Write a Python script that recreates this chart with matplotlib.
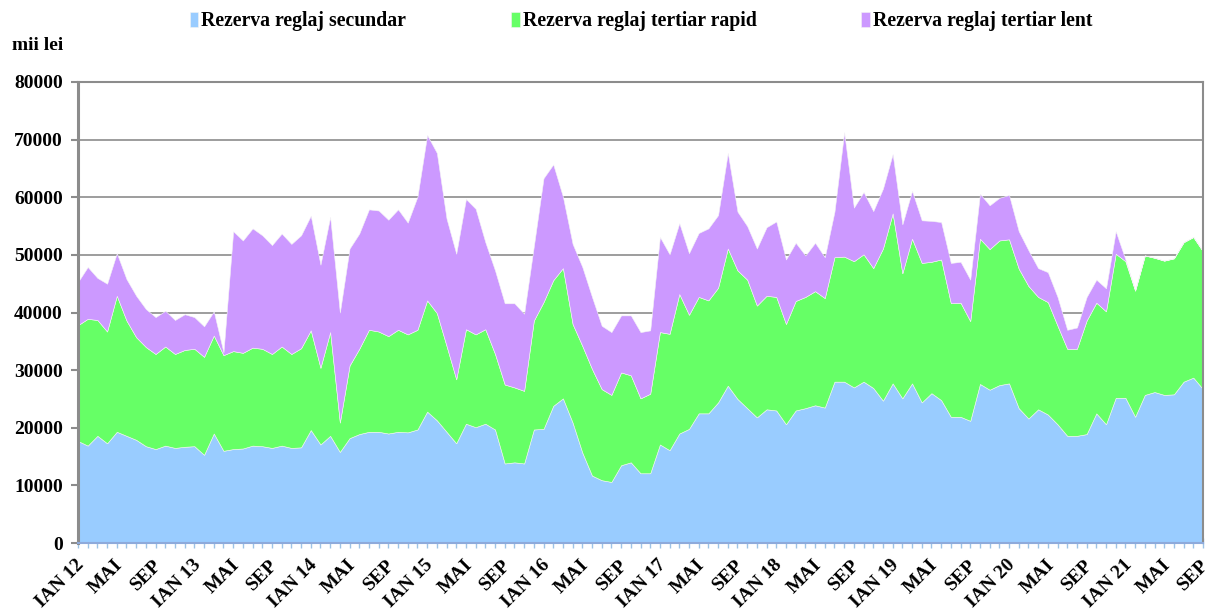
import numpy as np
import matplotlib
matplotlib.use("Agg")
import matplotlib.pyplot as plt
import matplotlib.transforms as mtransforms

# valori lunare (mii lei), ian 2012 - sep 2021
secundar = [17700, 16900, 18600, 17300, 19300, 18600, 17900, 16800, 16300, 16900, 16500, 16700,
            16800, 15300, 19000, 16000, 16300, 16400, 16900, 16800, 16500, 16900, 16500, 16600,
            19600, 17100, 18600, 15800, 18200, 18900, 19300, 19300, 19000, 19300, 19200, 19700,
            22800, 21300, 19300, 17300, 20700, 20100, 20700, 19700, 13800, 14000, 13800, 19700,
            19800, 23800, 25100, 20900, 15700, 11700, 10900, 10600, 13500, 14000, 12100, 12100,
            17100, 16100, 19000, 19800, 22500, 22500, 24400, 27300, 25000, 23400, 21800, 23200,
            23000, 20600, 23000, 23400, 23900, 23500, 28000, 28000, 27000, 28000, 26900, 24700,
            27700, 25100, 27700, 24400, 26000, 24800, 21900, 21900, 21200, 27600, 26600, 27400,
            27700, 23400, 21600, 23200, 22300, 20600, 18600, 18600, 18900, 22500, 20600, 25200,
            25200, 21900, 25700, 26200, 25700, 25800, 28000, 28700, 26700]
rapid = [20100, 22000, 20100, 19400, 23600, 20000, 17800, 17200, 16500, 17200, 16300, 16800,
         16900, 17000, 17000, 16600, 17000, 16600, 17000, 16900, 16300, 17200, 16300, 17200,
         17300, 13300, 18000, 5100, 12600, 14800, 17700, 17400, 16900, 17700, 17000, 17300,
         19300, 18600, 14900, 11100, 16400, 16100, 16400, 13100, 13700, 13000, 12600, 18900,
         22000, 21800, 22600, 17100, 18500, 18500, 15800, 15100, 16100, 15100, 13000, 13800,
         19500, 20200, 24200, 19800, 20200, 19600, 19900, 23800, 22300, 22300, 19400, 19700,
         19700, 17400, 19000, 19300, 19800, 19000, 21600, 21700, 21900, 22100, 20800, 26400,
         29500, 21700, 25100, 24200, 22800, 24400, 19700, 19800, 17300, 25200, 24400, 25100,
         25000, 24200, 23000, 19500, 19500, 17100, 15100, 15100, 19700, 19200, 19600, 25000,
         23700, 21900, 24200, 23300, 23300, 23600, 24200, 24400, 23900]
lent = [7500, 9000, 7300, 8300, 7400, 7200, 7200, 6600, 6400, 6200, 5900, 6200,
        5500, 5300, 4200, 500, 20800, 19500, 20700, 19700, 18900, 19600, 19100, 19600,
        19900, 17900, 20000, 19100, 20300, 20000, 20900, 21000, 20200, 20900, 19400, 23100,
        28700, 27800, 22100, 21800, 22600, 21800, 15100, 14500, 14100, 14600, 13400, 12900,
        21500, 20100, 12400, 13900, 13700, 12500, 11000, 10900, 9900, 10400, 11500, 11000,
        16500, 13800, 12300, 10700, 11100, 12500, 12600, 16600, 10200, 9300, 9900, 11900,
        13100, 11200, 10100, 7200, 8400, 7100, 7900, 21600, 9300, 10800, 9900, 10400,
        10300, 8500, 8300, 7400, 7100, 6500, 7000, 7100, 7200, 7800, 7600, 7400,
        7700, 6500, 6200, 5000, 5200, 5000, 3300, 3700, 4100, 4000, 4000, 3900,
        300, 0, 0, 0, 0, 0, 0, 0, 0]

serii = ["Rezerva reglaj secundar", "Rezerva reglaj tertiar rapid", "Rezerva reglaj tertiar lent"]
culori = ["#99ccff", "#66ff66", "#cc99ff"]
ani = ["12", "13", "14", "15", "16", "17", "18", "19", "20", "21"]

etichete = []
for a in ani:
    etichete += ["IAN " + a, "MAI", "SEP"]

plt.rcParams["font.family"] = ["Liberation Serif", "DejaVu Serif"]
plt.rcParams["font.weight"] = "bold"

luni = np.arange(len(secundar))

fig = plt.figure(figsize=(12.06, 6.12), dpi=100)
ax = fig.add_axes([78 / 1206, 1 - 543 / 612, 1125 / 1206, 461 / 612])

ax.stackplot(luni, secundar, rapid, lent, colors=culori, labels=serii,
             edgecolor="#f4f4f4", linewidth=0.4, zorder=2)

ax.set_xlim(0, len(luni) - 1)
ax.set_ylim(0, 80000)
ax.set_yticks(np.arange(0, 80001, 10000))
ax.set_yticklabels([str(v) for v in range(0, 80001, 10000)], fontsize=14, fontweight="bold")
ax.set_xticks(luni[::4])
ax.set_xticks(luni, minor=True)
ax.set_xticklabels(etichete, rotation=45, ha="right", va="top",
                   rotation_mode="anchor", fontsize=14, fontweight="bold")

ax.set_axisbelow(True)
ax.grid(axis="y", color="#8c8c8c", linewidth=1.2, zorder=0)

ax.spines["left"].set_color("#8c8c8c")
ax.spines["left"].set_linewidth(2.2)
ax.spines["top"].set_color("#8c8c8c")
ax.spines["top"].set_linewidth(1.5)
ax.spines["right"].set_color("#8c8c8c")
ax.spines["right"].set_linewidth(1.5)
ax.spines["bottom"].set_color("#8eaadb")
ax.spines["bottom"].set_linewidth(1.5)
for s in ax.spines.values():
    s.set_zorder(3)

ax.tick_params(axis="y", direction="out", length=5, width=1.5, color="#8c8c8c", pad=6)
ax.tick_params(axis="x", which="both", direction="inout", length=7, width=1.0,
               color="#9dc3e6", pad=6)

fig.text(12 / 1206, 1 - 45 / 612, "mii lei", fontsize=14, fontweight="bold", va="center")

fig.legend(loc="center", bbox_to_anchor=(641 / 1206, 1 - 21 / 612), ncol=3, frameon=False,
           handlelength=0.45, handleheight=0.8, handletextpad=0.15,
           columnspacing=5.3, prop={"weight": "bold", "size": 14.2})

# etichetele lunilor putin spre stanga, ca ultima sa nu iasa din figura
fig.canvas.draw()
deplasare = mtransforms.ScaledTranslation(-2.5 / 100, 0, fig.dpi_scale_trans)
for tick in ax.xaxis.get_major_ticks():
    tick.label1.set_transform(tick.label1.get_transform() + deplasare)

fig.savefig("out.png", dpi=100)
